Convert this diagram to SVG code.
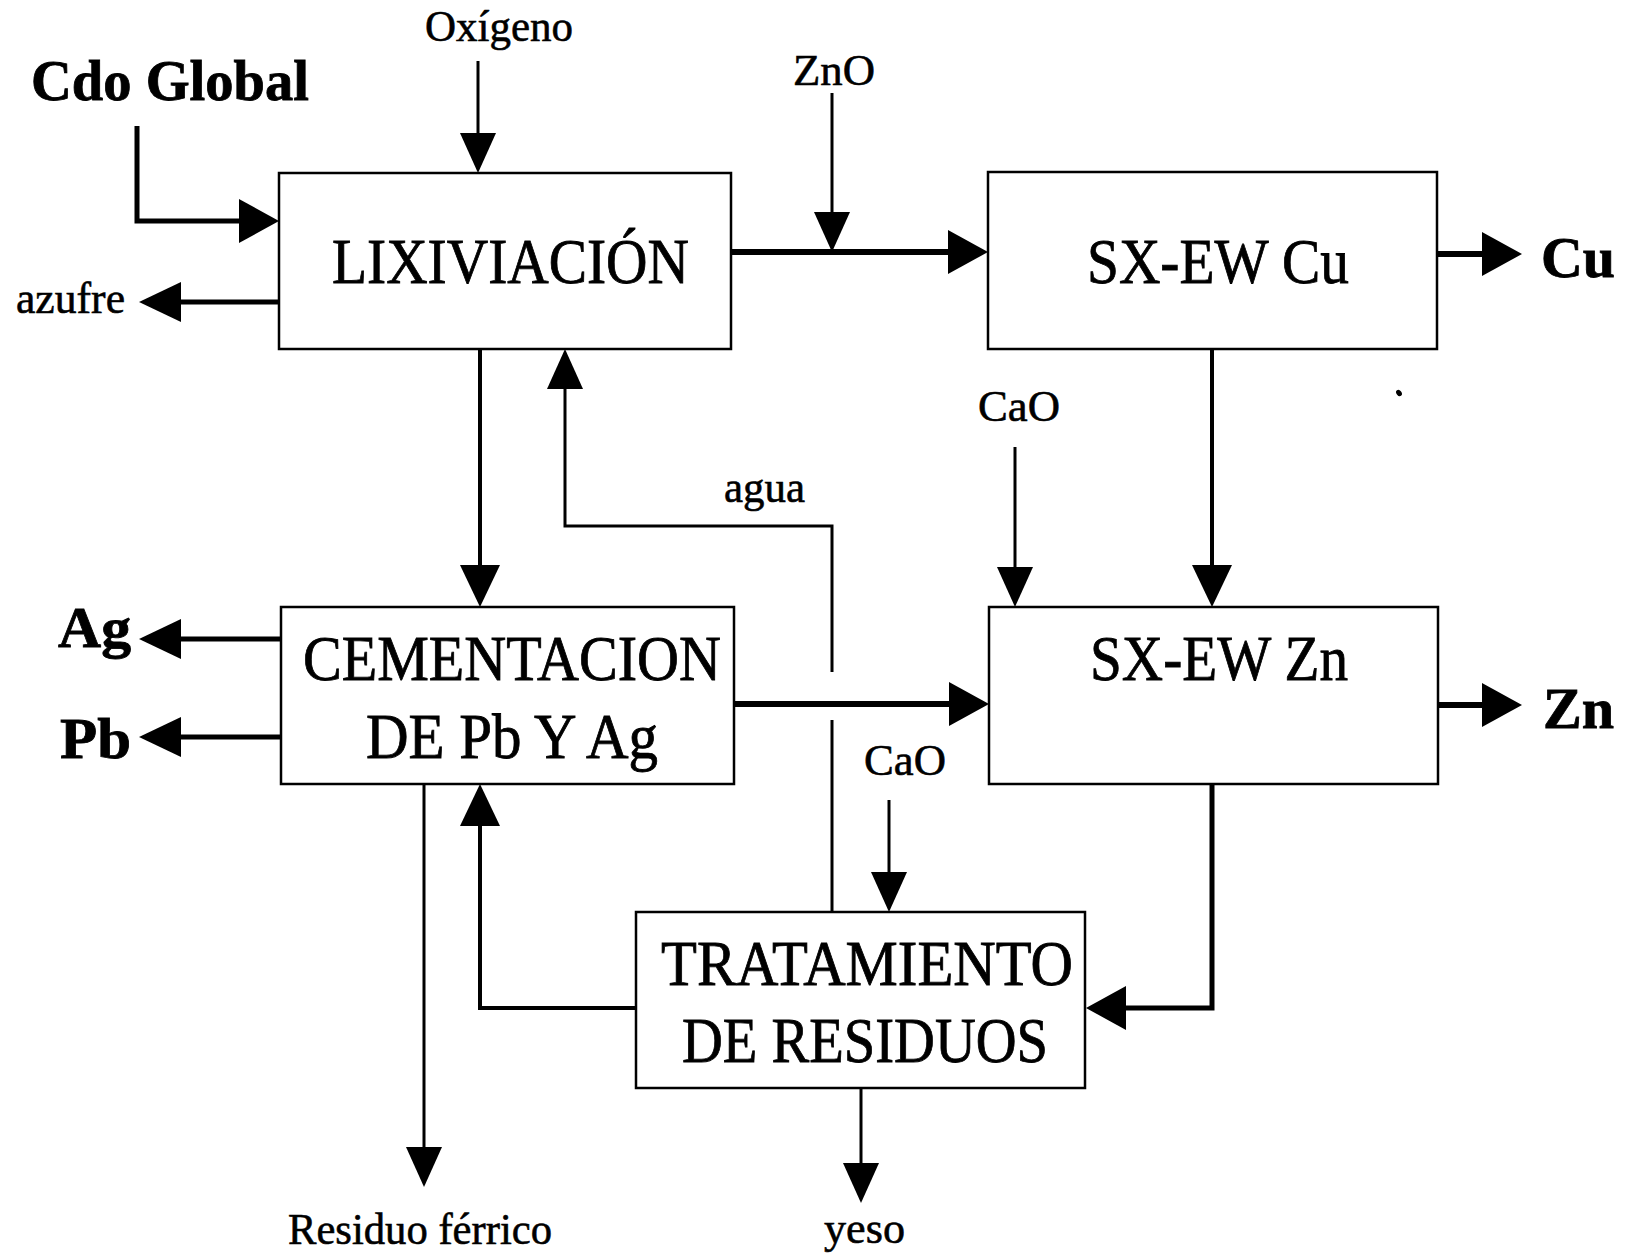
<svg xmlns="http://www.w3.org/2000/svg" width="1626" height="1253" viewBox="0 0 1626 1253">
<style>
.box{fill:#fff;stroke:#000;stroke-width:2.5}
.lbl{font-family:"Liberation Serif","Times New Roman",serif;font-size:63px;fill:#000;stroke:#000;stroke-width:0.8}
.sm{font-family:"Liberation Serif","Times New Roman",serif;font-size:45px;fill:#000;stroke:#000;stroke-width:0.6}
.bd{font-family:"Liberation Serif","Times New Roman",serif;font-size:57px;font-weight:bold;fill:#000;stroke:#000;stroke-width:0.8}
.c{fill:none;stroke:#000;stroke-linejoin:miter}
.w6{stroke-width:6}
.w5{stroke-width:5}
.w4{stroke-width:4}
.w3{stroke-width:3}
</style>
<defs>
<marker id="ab" viewBox="0 0 40 44" refX="30" refY="22" markerWidth="40" markerHeight="44" markerUnits="userSpaceOnUse" orient="auto"><path d="M0,0 L40,22 L0,44 Z" fill="#000"/></marker>
<marker id="am" viewBox="0 0 42 40" refX="32" refY="20" markerWidth="42" markerHeight="40" markerUnits="userSpaceOnUse" orient="auto"><path d="M0,0 L42,20 L0,40 Z" fill="#000"/></marker>
<marker id="as" viewBox="0 0 40 36" refX="30" refY="18" markerWidth="40" markerHeight="36" markerUnits="userSpaceOnUse" orient="auto"><path d="M0,0 L40,18 L0,36 Z" fill="#000"/></marker>
</defs>

<g id="connectors">
<path class="c w5" d="M137,126 V221 H269" marker-end="url(#ab)"/>
<path class="c w3" d="M478,61 V163" marker-end="url(#as)"/>
<path class="c w5" d="M279,302 H149" marker-end="url(#am)"/>
<path class="c w6" d="M731,252 H978" marker-end="url(#ab)"/>
<path class="c w3" d="M832,93 V242" marker-end="url(#as)"/>
<path class="c w6" d="M1437,254 H1512" marker-end="url(#ab)"/>
<path class="c w4" d="M480,349 V597" marker-end="url(#am)"/>
<path class="c w3" d="M832,912 V720"/>
<path class="c w3" d="M832,672 V526 H565 V359" marker-end="url(#as)"/>
<path class="c w5" d="M281,639 H149" marker-end="url(#am)"/>
<path class="c w5" d="M281,737 H149" marker-end="url(#am)"/>
<path class="c w6" d="M734,704 H979" marker-end="url(#ab)"/>
<path class="c w3" d="M1015,447 V597" marker-end="url(#as)"/>
<path class="c w4" d="M1212,349 V597" marker-end="url(#am)"/>
<path class="c w6" d="M1438,705 H1512" marker-end="url(#ab)"/>
<path class="c w3" d="M889,800 V902" marker-end="url(#as)"/>
<path class="c w5" d="M1212,784 V1008 H1096" marker-end="url(#ab)"/>
<path class="c w4" d="M636,1008 H480 V794" marker-end="url(#am)"/>
<path class="c w3" d="M424,784 V1177" marker-end="url(#as)"/>
<path class="c w3" d="M861,1088 V1193" marker-end="url(#as)"/>
</g>

<g id="lixiviacion">
<rect class="box" x="279" y="173" width="452" height="176"/>
<text class="lbl" x="332" y="283" textLength="357" lengthAdjust="spacingAndGlyphs">LIXIVIACIÓN</text>
</g>
<g id="sxew-cu">
<rect class="box" x="988" y="172" width="449" height="177"/>
<text class="lbl" x="1087" y="283" textLength="262" lengthAdjust="spacingAndGlyphs">SX-EW Cu</text>
</g>
<g id="cementacion">
<rect class="box" x="281" y="607" width="453" height="177"/>
<text class="lbl" x="303" y="680" textLength="418" lengthAdjust="spacingAndGlyphs">CEMENTACION</text>
<text class="lbl" x="366" y="758" textLength="292" lengthAdjust="spacingAndGlyphs">DE Pb Y Ag</text>
</g>
<g id="sxew-zn">
<rect class="box" x="989" y="607" width="449" height="177"/>
<text class="lbl" x="1090" y="680" textLength="258" lengthAdjust="spacingAndGlyphs">SX-EW Zn</text>
</g>
<g id="tratamiento">
<rect class="box" x="636" y="912" width="449" height="176"/>
<text class="lbl" x="661" y="985" textLength="412" lengthAdjust="spacingAndGlyphs">TRATAMIENTO</text>
<text class="lbl" x="682" y="1062" textLength="366" lengthAdjust="spacingAndGlyphs">DE RESIDUOS</text>
</g>

<g id="labels">
<text class="bd" x="31" y="100" textLength="278" lengthAdjust="spacingAndGlyphs">Cdo Global</text>
<text class="sm" x="425" y="41" textLength="148" lengthAdjust="spacingAndGlyphs">Oxígeno</text>
<text class="sm" x="793" y="85" textLength="82" lengthAdjust="spacingAndGlyphs">ZnO</text>
<text class="sm" x="16" y="313" textLength="109" lengthAdjust="spacingAndGlyphs">azufre</text>
<text class="bd" x="1541" y="277" textLength="74" lengthAdjust="spacingAndGlyphs">Cu</text>
<text class="sm" x="978" y="421" textLength="82" lengthAdjust="spacingAndGlyphs">CaO</text>
<text class="sm" x="724" y="502" textLength="81" lengthAdjust="spacingAndGlyphs">agua</text>
<text class="bd" x="58" y="647" textLength="73" lengthAdjust="spacingAndGlyphs">Ag</text>
<text class="bd" x="60" y="758" textLength="71" lengthAdjust="spacingAndGlyphs">Pb</text>
<text class="bd" x="1543" y="728" textLength="71" lengthAdjust="spacingAndGlyphs">Zn</text>
<text class="sm" x="864" y="775" textLength="82" lengthAdjust="spacingAndGlyphs">CaO</text>
<text class="sm" x="288" y="1244" textLength="264" lengthAdjust="spacingAndGlyphs">Residuo férrico</text>
<text class="sm" x="824" y="1243" textLength="81" lengthAdjust="spacingAndGlyphs">yeso</text>
</g>
<ellipse cx="1399" cy="393" rx="2.5" ry="3.5" transform="rotate(-35 1399 393)" fill="#000"/>
</svg>
